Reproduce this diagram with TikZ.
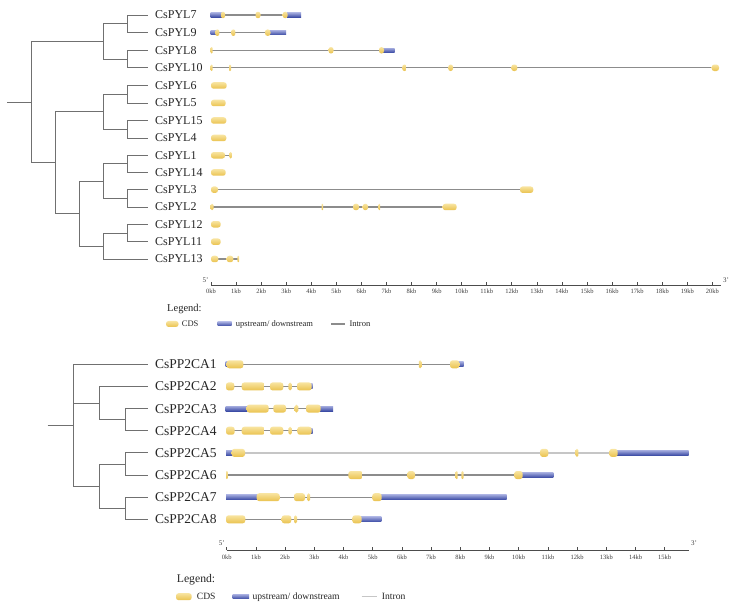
\documentclass[tikz,border=0pt]{standalone}
\usepackage{fontspec}
\setmainfont{Liberation Serif}
\definecolor{cdsA}{HTML}{F8E4A0}
\definecolor{cdsB}{HTML}{EAC24E}
\definecolor{utrA}{HTML}{A0A8DC}
\definecolor{utrB}{HTML}{3A4AA4}
\definecolor{treegray}{HTML}{707070}
\definecolor{introngray}{HTML}{8C8C8C}
\definecolor{intronlight}{HTML}{C6C6C6}
\definecolor{txt}{HTML}{262626}
\newcommand\cdsbox[4]{\pgfmathsetmacro\myrr{min(2.6,(#3-#2)/2)}\shade[top color=cdsA,bottom color=cdsB,rounded corners=\myrr pt] (#2,#1-#4/2) rectangle (#3,#1+#4/2);}
\newcommand\utrbox[4]{\shade[top color=utrA,bottom color=utrB] (#2,#1-#4/2) rectangle (#3,#1+#4/2);}
\begin{document}
\begin{tikzpicture}[x=1pt,y=-1pt,
  treeline/.style={draw=treegray,line width=0.9pt},
  intronA/.style={draw=introngray,line width=1.1pt},
  intronB/.style={draw=introngray,line width=1.3pt},
  intronC/.style={draw=intronlight,line width=1.4pt},
  axisline/.style={draw=black!70,line width=0.7pt},
  toplabel/.style={anchor=west,inner xsep=7pt,inner ysep=0pt,text=txt,font=\fontsize{12}{12}\selectfont},
  botlabel/.style={anchor=west,inner xsep=7pt,inner ysep=0pt,text=txt,font=\fontsize{13.5}{13.5}\selectfont},
  ticklab/.style={inner sep=0pt,text=black!75,font=\fontsize{6.5}{6.5}\selectfont},
  endlab/.style={inner sep=0pt,text=black!75,font=\fontsize{7}{7}\selectfont},
  legtitleA/.style={anchor=west,inner sep=0pt,text=txt,font=\fontsize{10.5}{10.5}\selectfont},
  legitemA/.style={anchor=west,inner sep=0pt,text=txt,font=\fontsize{8.5}{8.5}\selectfont},
  legtitleB/.style={anchor=west,inner sep=0pt,text=txt,font=\fontsize{11.7}{11.7}\selectfont},
  legitemB/.style={anchor=west,inner sep=0pt,text=txt,font=\fontsize{9.6}{9.6}\selectfont}]
\useasboundingbox[fill=white] (0,0) rectangle (753,609);

% ---------------- top labels ----------------
\foreach \n/\yy in {7/15,9/32.7,8/50.3,10/67.8,6/85.5,5/103,15/120.5,4/138,1/155.3,14/172.5,3/189.7,2/207,12/224.3,11/241.7,13/259}
  \node[toplabel] (P\n) at (148,\yy) {CsPYL\n};

% ---------------- top tree ----------------
\coordinate (a79) at (127,23.85);
\coordinate (a810) at (127,59.05);
\coordinate (aA) at (103,41.45);
\coordinate (a65) at (127,94.25);
\coordinate (a154) at (127,129.25);
\coordinate (aB) at (103,111.75);
\coordinate (a114) at (127,163.9);
\coordinate (a32) at (127,198.35);
\coordinate (aC) at (103,181.1);
\coordinate (a1211) at (127,233);
\coordinate (aD) at (103,246);
\coordinate (aE) at (79,213.55);
\coordinate (aF) at (55,162.65);
\coordinate (aR) at (31,102.05);
\coordinate (aS) at (7,102.05);
\draw[treeline] (aS) -- (aR);
\foreach \p/\c in {aR/aA,aR/aF,aA/a79,aA/a810,aF/aB,aF/aE,aB/a65,aB/a154,aE/aC,aE/aD,aC/a114,aC/a32,aD/a1211,a79/P7,a79/P9,a810/P8,a810/P10,a65/P6,a65/P5,a154/P15,a154/P4,a114/P1,a114/P14,a32/P3,a32/P2,a1211/P12,a1211/P11,aD/P13}
  \draw[treeline] (\p) |- (\c);

% ---------------- top gene structures ----------------
% PYL7
\draw[intronA] (222,15) -- (288,15);
\utrbox{15}{210.7}{222.5}{4.5}\utrbox{15}{287}{301}{4.5}
\foreach \a/\b in {221/225,255.5/260.5,282.7/287.7} {\cdsbox{15}{\a}{\b}{6.5}}
% PYL9
\draw[intronA] (216,32.7) -- (270,32.7);
\utrbox{32.7}{210.7}{216.5}{4.5}\utrbox{32.7}{269.5}{286}{4.5}
\foreach \a/\b in {215.3/219.3,231.3/235.3,265/270.5} {\cdsbox{32.7}{\a}{\b}{6.5}}
% PYL8
\draw[intronA] (211,50.3) -- (384,50.3);
\utrbox{50.3}{383}{394.7}{4.5}
\foreach \a/\b in {210.5/212.7,328.5/333.5,379/384} {\cdsbox{50.3}{\a}{\b}{6.5}}
% PYL10
\draw[intronA] (211,67.8) -- (716,67.8);
\foreach \a/\b in {210.5/212.7,229/231,402.3/406.7,448.3/453,511.3/517.3,711.7/719} {\cdsbox{67.8}{\a}{\b}{6.5}}
% single exon genes
\cdsbox{85.5}{211}{226.7}{6.5}
\cdsbox{103}{211}{225.7}{6.5}
\cdsbox{120.5}{211}{226.3}{6.5}
\cdsbox{138}{211}{226.3}{6.5}
% PYL1
\draw[intronA] (224,155.3) -- (231,155.3);
\cdsbox{155.3}{211}{225}{6.5}\cdsbox{155.3}{229.6}{231.8}{6.5}
% PYL14
\cdsbox{172.5}{211}{225.7}{6.5}
% PYL3
\draw[intronA] (216,189.7) -- (522,189.7);
\cdsbox{189.7}{211}{218}{6.5}\cdsbox{189.7}{520}{533.3}{6.5}
% PYL2
\draw[intronA] (212,207) -- (445,207);
\foreach \a/\b in {210.5/213.7,321.5/323.2,353/359,362.7/368,378.5/380.2,442.7/456.7} {\cdsbox{207}{\a}{\b}{6.5}}
% PYL12, PYL11
\cdsbox{224.3}{211}{220.7}{6.5}
\cdsbox{241.7}{211}{220.7}{6.5}
% PYL13
\draw[intronA] (217,259) -- (238.5,259);
\foreach \a/\b in {211/218.3,226.7/233.3,237.4/239.2} {\cdsbox{259}{\a}{\b}{6.5}}

% ---------------- top axis ----------------
\coordinate (axAs) at (211,285);
\coordinate (axAe) at (721,285);
\draw[axisline] (axAs) -- (axAe);
\foreach \k in {0,...,20} {
  \draw[axisline] (211+25.07*\k,285) -- (211+25.07*\k,282.3);
  \node[ticklab] (ta\k) at (211+25.07*\k,291.2) {\k kb};
}
\node[endlab] (fiveA) at (205.5,280) {5'};
\node[endlab] (threeA) at (726,280) {3'};

% ---------------- top legend ----------------
\node[legtitleA] (legA) at (167,308.5) {Legend:};
\cdsbox{324}{166}{178.5}{6}
\node[legitemA] (cdsA) at (181.7,324) {CDS};
\utrbox{324}{217.7}{231.7}{4}
\node[legitemA] (utrA) at (235.7,324) {upstream/ downstream};
\coordinate (inAs) at (331,324);
\coordinate (inAe) at (345,324);
\draw[intronA] (inAs) -- (inAe);
\node[legitemA] (intA) at (349.3,324) {Intron};

% ---------------- bottom labels ----------------
\foreach \n/\yy in {1/364.3,2/386.45,3/408.6,4/430.75,5/452.9,6/475.05,7/497.2,8/519.35}
  \node[botlabel] (Q\n) at (148,\yy) {CsPP2CA\n};

% ---------------- bottom tree ----------------
\coordinate (b34) at (125,419.7);
\coordinate (b234) at (99,403.1);
\coordinate (b56) at (125,464);
\coordinate (b78) at (125,508.3);
\coordinate (b5678) at (99,486.15);
\coordinate (bR) at (73,425.2);
\coordinate (bS) at (47.7,425.2);
\draw[treeline] (bS) -- (bR);
\foreach \p/\c in {bR/Q1,bR/b234,bR/b5678,b234/Q2,b234/b34,b34/Q3,b34/Q4,b5678/b56,b5678/b78,b56/Q5,b56/Q6,b78/Q7,b78/Q8}
  \draw[treeline] (\p) |- (\c);

% ---------------- bottom gene structures ----------------
% CA1
\draw[intronB] (242,364.3) -- (451,364.3);
\utrbox{364.3}{225.7}{228}{5}\utrbox{364.3}{458}{463.7}{5}
\foreach \a/\b in {226.7/243.3,418.8/421.3,450/459.3} {\cdsbox{364.3}{\a}{\b}{8}}
% CA2
\draw[intronB] (232,386.45) -- (300,386.45);
\utrbox{386.45}{310}{312.5}{5}
\foreach \a/\b in {226/234.3,241.7/264.7,270/283.3,288.3/292,297/311.7} {\cdsbox{386.45}{\a}{\b}{8}}
% CA3
\draw[intronB] (245,408.6) -- (310,408.6);
\utrbox{408.6}{225.7}{247.5}{5}\utrbox{408.6}{320}{333}{5}
\foreach \a/\b in {246.7/268.7,273.3/286,294.7/298.3,306/320.7} {\cdsbox{408.6}{\a}{\b}{8}}
% CA4
\draw[intronB] (232,430.75) -- (300,430.75);
\utrbox{430.75}{310}{312.5}{5}
\foreach \a/\b in {226/234.7,241.7/264.7,270/283.3,288.3/292,297.3/311.7} {\cdsbox{430.75}{\a}{\b}{8}}
% CA5
\draw[intronC] (243,452.9) -- (612,452.9);
\utrbox{452.9}{226}{233}{5}\utrbox{452.9}{617}{688.7}{5}
\foreach \a/\b in {231.7/245,540/548.3,575.7/578.3,609.3/617.7} {\cdsbox{452.9}{\a}{\b}{8}}
% CA6
\draw[intronB] (226.5,475.05) -- (516,475.05);
\utrbox{475.05}{522}{553.3}{5}
\foreach \a/\b in {226/227.8,348.3/362.7,407.3/415,455.7/457.7,461.3/463.7,514.3/522.7} {\cdsbox{475.05}{\a}{\b}{8}}
% CA7
\draw[intronB] (278,497.2) -- (374,497.2);
\utrbox{497.2}{226}{257.5}{5}\utrbox{497.2}{381}{506.7}{5}
\foreach \a/\b in {256.7/279.7,294/305,307.3/310,372.3/381.7} {\cdsbox{497.2}{\a}{\b}{8}}
% CA8
\draw[intronB] (244,519.35) -- (354,519.35);
\utrbox{519.35}{361}{381.3}{5}
\foreach \a/\b in {226/245.3,281.7/291.3,294/297,352.3/361.7} {\cdsbox{519.35}{\a}{\b}{8}}

% ---------------- bottom axis ----------------
\coordinate (axBs) at (226.7,550);
\coordinate (axBe) at (688.5,550);
\draw[axisline] (axBs) -- (axBe);
\foreach \k in {0,...,15} {
  \draw[axisline] (226.7+29.2*\k,550) -- (226.7+29.2*\k,547.2);
  \node[ticklab] (tb\k) at (226.7+29.2*\k,557) {\k kb};
}
\node[endlab] (fiveB) at (221.7,543.5) {5'};
\node[endlab] (threeB) at (694,543.5) {3'};

% ---------------- bottom legend ----------------
\node[legtitleB] (legB) at (176.7,580) {Legend:};
\cdsbox{596.7}{176}{191.7}{7}
\node[legitemB] (cdsB) at (196.7,596.7) {CDS};
\utrbox{596.7}{232.7}{249}{4.5}
\node[legitemB] (utrB) at (252.3,596.7) {upstream/ downstream};
\coordinate (inBs) at (361.7,596.7);
\coordinate (inBe) at (376.7,596.7);
\draw[intronC] (inBs) -- (inBe);
\node[legitemB] (intB) at (381.7,596.7) {Intron};
\end{tikzpicture}
\end{document}
